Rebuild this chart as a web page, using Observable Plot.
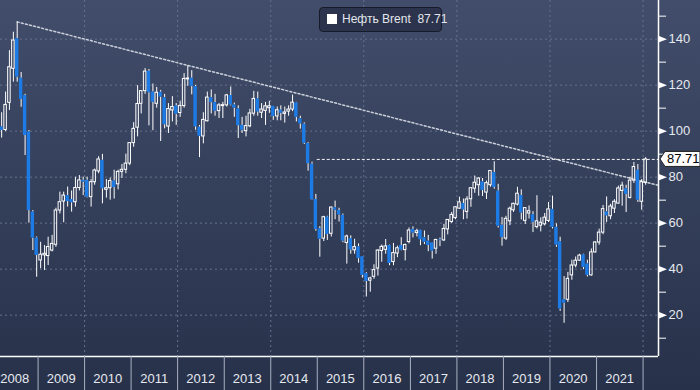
<!DOCTYPE html>
<html><head><meta charset="utf-8">
<script src="https://cdn.jsdelivr.net/npm/d3@7"></script>
<script src="https://cdn.jsdelivr.net/npm/@observablehq/plot@0.6"></script>
<style>
html,body{margin:0;padding:0;}
body{width:700px;height:390px;overflow:hidden;background:linear-gradient(#414d6a,#27314a);font-family:"Liberation Sans",Arial,sans-serif;}
#wrap{position:relative;width:700px;height:390px;}
#wrap svg{position:absolute;left:0;top:0;}
#legend{position:absolute;left:319px;top:7px;width:123px;height:25px;box-sizing:border-box;border:1px solid #151b29;border-radius:4px;background:#2b344c;color:#e3e6ec;font-size:12px;line-height:23px;padding-left:22px;white-space:pre;}
#legend .sw{position:absolute;left:7px;top:6px;width:10px;height:10px;background:#fff;}
</style></head><body><div id="wrap"></div>
<script>
// ---- data (monthly Brent, Mar 2008 .. Jan 2022) ----
const startMonth = "2008-03";
const open = [
  101.8, 100.5, 112.3, 127.1, 140.2, 123.0, 115.5, 99.6, 64.8, 53.5,
  43.8, 46.0, 45.7, 48.1, 50.6, 65.5, 69.4, 72.0, 70.3, 69.1, 75.3, 78.6,
  78.6, 71.3, 77.8, 82.5, 87.3, 74.5, 75.2, 78.3, 76.9, 82.3, 83.2, 85.9,
  94.8, 101.5, 111.9, 117.4, 126.0, 117.0, 111.9, 116.9, 114.5, 102.0, 109.0, 110.9,
  107.9, 110.9, 122.5, 123.0, 119.4, 101.7, 97.7, 104.3, 114.5, 112.4, 108.7, 110.9,
  111.2, 115.5, 111.4, 109.7, 102.5, 100.0, 102.1, 107.6, 114.0, 108.0, 108.8, 110.0,
  110.8, 106.4, 109.1, 107.5, 108.5, 109.4, 112.3, 105.4, 103.0, 94.6, 85.6, 70.3,
  57.6, 53.3, 62.6, 55.4, 66.7, 65.5, 63.4, 51.4, 53.3, 48.2, 49.7, 45.4,
  38.1, 35.0, 36.7, 40.3, 47.9, 48.4, 50.3, 43.1, 46.8, 50.3, 48.3, 51.8,
  57.3, 55.7, 56.9, 53.7, 52.2, 51.4, 48.9, 52.7, 52.5, 57.3, 60.5, 62.2,
  66.3, 68.5, 64.9, 70.4, 75.0, 76.5, 78.0, 73.3, 76.5, 82.0, 73.9, 59.1,
  53.3, 60.8, 65.6, 68.1, 72.0, 61.0, 64.2, 63.7, 58.3, 58.9, 59.5, 61.0,
  66.0, 58.2, 51.9, 26.7, 26.7, 37.3, 41.6, 43.7, 46.2, 42.3, 37.3, 47.3,
  51.6, 55.9, 64.9, 63.0, 66.3, 68.5, 74.0, 75.0, 71.0, 78.5, 83.0, 69.3,
  77.5
];
const high = [
  108.0, 117.0, 135.0, 143.0, 147.5, 125.5, 116.0, 100.3, 65.5, 54.0,
  51.7, 50.3, 53.9, 54.7, 66.5, 73.5, 73.5, 75.7, 74.0, 80.0, 80.7, 80.0,
  80.0, 79.0, 83.5, 88.9, 89.9, 79.0, 79.6, 83.0, 83.0, 85.5, 90.0, 95.0,
  103.7, 119.8, 117.6, 127.2, 126.8, 120.5, 119.0, 117.7, 116.0, 112.0, 115.0, 112.0,
  113.0, 125.0, 128.4, 126.3, 119.9, 102.5, 108.0, 117.0, 117.9, 116.0, 112.0, 112.5,
  116.0, 119.2, 112.2, 111.0, 106.0, 106.5, 109.5, 117.3, 117.0, 112.0, 112.5, 113.0,
  110.8, 110.5, 111.0, 110.5, 111.0, 115.7, 112.5, 106.5, 103.6, 95.0, 86.5, 72.5,
  58.5, 63.0, 63.0, 67.0, 69.6, 66.5, 64.0, 54.8, 54.5, 53.0, 51.0, 45.5,
  38.5, 36.5, 41.9, 48.5, 50.5, 52.9, 50.5, 51.2, 50.0, 53.7, 50.9, 57.9,
  58.4, 57.4, 57.0, 56.6, 54.7, 51.5, 53.0, 53.5, 59.5, 61.5, 64.7, 67.1,
  71.3, 70.5, 71.5, 75.5, 80.5, 79.8, 79.4, 78.3, 82.9, 86.7, 76.9, 62.5,
  63.0, 67.0, 68.7, 75.6, 74.5, 66.8, 67.5, 65.0, 71.95, 62.3, 64.2, 69.0,
  71.75, 59.7, 53.9, 36.8, 38.6, 43.9, 45.3, 46.5, 46.5, 43.9, 48.8, 52.0,
  57.4, 67.7, 71.4, 68.2, 70.2, 76.1, 77.8, 76.5, 80.0, 86.4, 85.5, 79.0,
  88.5
];
const low = [
  97.0, 99.8, 109.0, 121.3, 121.3, 110.4, 89.4, 60.0, 48.1, 36.5,
  40.2, 39.4, 41.6, 47.5, 49.5, 64.0, 60.2, 67.0, 64.8, 67.0, 74.0, 72.0,
  71.0, 67.0, 76.5, 81.5, 68.4, 70.9, 70.0, 70.5, 74.5, 79.5, 81.5, 85.0,
  93.0, 97.5, 107.5, 116.0, 102.3, 100.2, 110.0, 95.5, 101.0, 99.0, 104.0, 102.5,
  106.0, 110.0, 119.5, 115.8, 100.4, 88.5, 94.5, 104.0, 107.5, 106.5, 105.5, 105.5,
  110.5, 111.0, 106.0, 96.8, 99.0, 97.5, 101.5, 106.5, 106.5, 105.5, 102.5, 107.7,
  104.7, 104.5, 104.5, 103.5, 106.5, 108.5, 104.0, 100.9, 94.2, 82.6, 70.0, 56.5,
  45.2, 52.0, 52.5, 54.0, 61.5, 60.5, 51.5, 42.2, 46.5, 46.5, 42.6, 36.1,
  27.9, 30.0, 35.6, 37.0, 43.0, 46.5, 41.5, 41.5, 45.0, 48.0, 43.6, 51.0,
  53.6, 54.0, 50.2, 50.7, 47.6, 44.4, 46.5, 49.8, 52.0, 54.9, 59.9, 61.5,
  66.0, 61.5, 61.8, 66.9, 73.0, 71.7, 71.6, 70.3, 75.6, 74.8, 57.9, 50.0,
  52.5, 58.9, 64.7, 67.5, 61.4, 59.45, 61.8, 55.9, 57.5, 56.2, 58.8, 60.3,
  57.5, 49.5, 21.65, 16.5, 25.5, 35.2, 40.6, 43.4, 39.8, 36.6, 37.0, 47.0,
  50.4, 55.0, 60.3, 61.5, 64.2, 68.3, 67.4, 64.6, 70.5, 77.3, 69.0, 65.6,
  76.5
];
const close = [
  100.3, 111.4, 127.8, 139.4, 123.5, 113.8, 98.1, 65.5, 53.5, 46.0,
  46.3, 46.7, 49.6, 51.0, 65.5, 69.1, 72.0, 69.4, 68.9, 75.3, 78.6, 77.9,
  71.3, 77.8, 82.9, 87.7, 75.0, 75.2, 78.3, 75.5, 82.3, 83.2, 85.9, 94.8,
  101.0, 111.8, 117.4, 125.9, 116.7, 112.5, 116.7, 114.8, 102.8, 109.6, 110.5, 107.4,
  110.98, 122.7, 122.9, 119.5, 101.9, 97.8, 104.9, 114.6, 112.4, 108.7, 111.2, 111.3,
  115.55, 111.4, 110.0, 102.4, 100.4, 102.2, 107.7, 114.0, 108.4, 109.4, 110.8, 110.8,
  106.4, 109.1, 107.8, 108.1, 109.4, 112.4, 106.0, 103.2, 94.7, 85.9, 70.2, 57.3,
  52.99, 62.6, 55.1, 66.8, 65.6, 63.6, 52.2, 54.2, 48.4, 49.6, 44.6, 37.3,
  34.7, 35.97, 39.6, 48.1, 49.7, 49.9, 42.5, 47.0, 49.1, 48.3, 50.5, 56.8,
  55.7, 56.5, 52.8, 51.7, 50.3, 47.9, 52.7, 52.4, 57.5, 61.4, 63.6, 66.9,
  69.05, 65.8, 70.3, 75.2, 77.6, 79.4, 74.25, 77.4, 82.7, 75.5, 58.7, 53.8,
  61.9, 66.3, 68.4, 72.8, 64.5, 66.55, 65.2, 60.4, 60.8, 60.2, 62.4, 66.0,
  58.2, 50.5, 22.7, 25.2, 35.8, 41.6, 43.7, 45.9, 40.8, 37.3, 47.3, 51.6,
  55.9, 66.1, 63.2, 67.25, 69.3, 75.1, 76.3, 72.5, 78.5, 84.4, 70.0, 77.8,
  87.71
];
const seriesName = "Нефть Brent";
const yTicks = [20, 40, 60, 80, 100, 120, 140];
const yMinorTicks = [10, 30, 50, 70, 90, 110, 130, 150];
const yearLabels = [2008, 2009, 2010, 2011, 2012, 2013, 2014, 2015, 2016, 2017, 2018, 2019, 2020, 2021];
const yearSeparators = [2009, 2010, 2011, 2012, 2013, 2014, 2015, 2016, 2017, 2018, 2019, 2020, 2021, 2022];
const gridYears = [2010, 2012, 2014, 2016, 2018, 2020, 2022];
const trendEndValue = 76.4;   // trend line value at right edge
const levelStart = "2015-01"; // start of horizontal level line
const xDomain = ["2008-03-12", "2022-05-02"];
const yDomain = [2.04, 156.8];

// ---- build ----
const parseM = d3.utcParse("%Y-%m");
const parseD = d3.utcParse("%Y-%m-%d");
const t0 = parseM(startMonth);
const data = open.map((o, i) => {
  const m = d3.utcMonth.offset(t0, i);
  return {
    date: new Date(+m + 20 * 864e5),
    open: o, high: high[i], low: low[i], close: close[i],
    top: Math.max(o, close[i]), bot: Math.min(o, close[i]),
    up: close[i] >= o
  };
});
const up = data.filter(d => d.up);
const down = data.filter(d => !d.up);
const last = data[data.length - 1];
const peak = data.reduce((a, b) => (b.high > a.high ? b : a));
const xd = xDomain.map(parseD);
const yr = y => new Date(Date.UTC(y, 0, 1));
const trend = [{date: peak.date, value: peak.high}, {date: xd[1], value: trendEndValue}];

const triRight = {draw(ctx) { ctx.moveTo(-4, -3.2); ctx.lineTo(4, 0); ctx.lineTo(-4, 3.2); ctx.closePath(); }};

const grid = "#66718d";
const txt = "#e6e9ef";

const plot = Plot.plot({
  width: 700, height: 390,
  marginLeft: 0, marginRight: 42, marginTop: 0, marginBottom: 34,
  style: {background: "transparent", fontFamily: "Liberation Sans, Arial, sans-serif", color: txt},
  x: {type: "utc", domain: xd},
  y: {domain: yDomain},
  marks: [
    Plot.ruleY(yTicks, {stroke: grid, strokeDasharray: "2,3"}),
    Plot.ruleX(gridYears.map(yr), {stroke: grid, strokeDasharray: "2,3"}),
    Plot.line(trend, {x: "date", y: "value", stroke: "#c9ced9", strokeWidth: 1.5, strokeDasharray: "2,2.2"}),
    Plot.ruleY([last.close], {x1: parseM(levelStart), x2: xd[1], stroke: "#f2f2f2", strokeDasharray: "3,2"}),
    Plot.ruleX(data, {x: "date", y1: "top", y2: "high", stroke: "#fff", strokeWidth: 1}),
    Plot.ruleX(data, {x: "date", y1: "low", y2: "bot", stroke: "#fff", strokeWidth: 1}),
    Plot.rect(down, {x1: "date", x2: "date", y1: "open", y2: "close", insetLeft: -1.7, insetRight: -1.7, fill: "#1d7be6"}),
    Plot.rect(up, {x1: "date", x2: "date", y1: "open", y2: "close", insetLeft: -1.25, insetRight: -1.25, fill: "none", stroke: "#fff", strokeWidth: 1}),
    Plot.ruleY([yDomain[0]], {stroke: "#fff", strokeWidth: 1.5}),
    Plot.ruleX([xd[1]], {stroke: "#fff", strokeWidth: 1.5}),
    Plot.axisX(yearSeparators.map(yr), {anchor: "bottom", tickSize: 34, tickFormat: () => "", stroke: "#a9b0c1"}),
    Plot.text(yearLabels, {x: y => new Date(Date.UTC(y, 6, 1)), frameAnchor: "bottom", dy: 26, text: d => String(d), fill: txt, fontSize: 13}),
    Plot.axisY(yMinorTicks, {anchor: "right", tickSize: 7, tickFormat: () => "", stroke: "#fff"}),
    Plot.axisY(yTicks, {anchor: "right", tickSize: 0, tickPadding: 10, fontSize: 13, color: txt}),
    Plot.dot(yTicks, {x: () => xd[1], y: d => d, symbol: triRight, r: 3, fill: "#fff", stroke: null, dx: 4.5})
  ]
});
const wrap = document.getElementById("wrap");
wrap.appendChild(plot);

// price tag at the right axis
const yS = plot.scale("y"), xS = plot.scale("x");
const py = yS.apply(last.close), px = xS.apply(xd[1]);
const svg = d3.select(plot);
const g = svg.append("g");
g.append("path")
  .attr("d", `M${px + 2},${py} L${px + 7},${py - 7.5} L700,${py - 7.5} L700,${py + 7.5} L${px + 7},${py + 7.5} Z`)
  .attr("fill", "#fff").attr("stroke", "#222");
g.append("text").attr("x", px + 9).attr("y", py).attr("dy", "0.35em")
  .attr("text-anchor", "start")
  .attr("font-size", 13).attr("fill", "#000").text(last.close.toFixed(2));

// legend box
const lg = document.createElement("div");
lg.id = "legend";
lg.innerHTML = `<span class="sw"></span>${seriesName}  ${last.close.toFixed(2)}`;
wrap.appendChild(lg);
</script>
</body></html>
